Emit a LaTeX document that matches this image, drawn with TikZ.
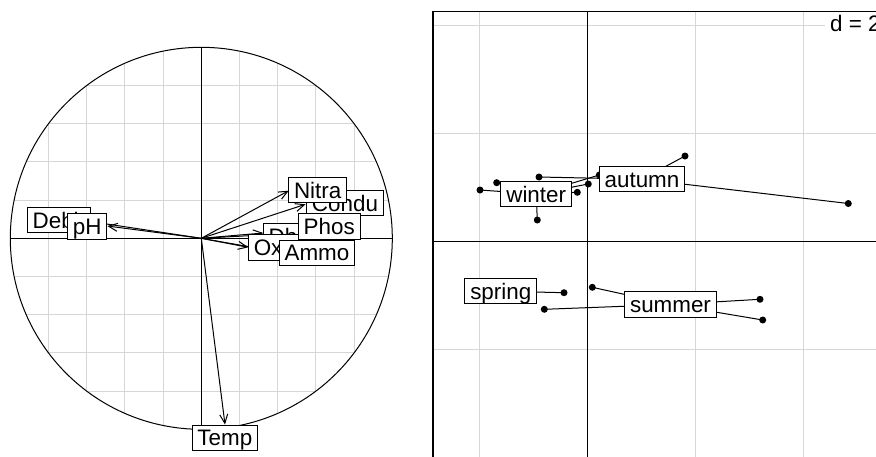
\documentclass[tikz,border=0pt]{standalone}
\usepackage{fontspec}
\setmainfont{Liberation Sans}
\usetikzlibrary{arrows.meta}
\begin{document}
\begin{tikzpicture}[x=1pt,y=-1pt,
  lab/.style={draw=black, fill=white, line width=1pt, font=\fontsize{22.4}{24}\selectfont, text height=16.1pt, text depth=0pt, inner xsep=5.4pt, inner ysep=4.7pt},
  gridl/.style={draw=black!16, line width=1pt},
  axisl/.style={draw=black, line width=1pt},
  arr/.style={draw=black, line width=1pt, -{Straight Barb[length=9pt,width=8pt]}},
  starl/.style={draw=black, line width=1pt},
  dot/.style={circle, fill=black, inner sep=0pt, minimum size=7pt}]
\useasboundingbox (0,0) rectangle (876,456);
% ---------------- left panel: correlation circle ----------------
\coordinate (O) at (201.3,238.3);
\begin{scope}
  \clip (O) circle[radius=191];
  \foreach \k in {-4,-3,-2,-1,1,2,3,4} {
    \draw[gridl] ({201.3+(\k)*38.2},40) -- ({201.3+(\k)*38.2},440);
    \draw[gridl] (0,{238.3+(\k)*38.2}) -- (400,{238.3+(\k)*38.2});
  }
\end{scope}
\draw[line width=1pt] (O) circle[radius=191];
\coordinate (axL) at (10.3,238.3);
\coordinate (axR) at (392.3,238.3);
\coordinate (axT) at (201.3,47.3);
\coordinate (axB) at (201.3,429.3);
\draw[axisl] (axL) -- (axR);
\draw[axisl] (axT) -- (axB);
% arrow tips
\coordinate (tTemp)  at (225,424.5);
\coordinate (tDebit) at (90.3,221.5);
\coordinate (tpH)    at (107.3,226);
\coordinate (tCondu) at (305.5,204.3);
\coordinate (tDbo)   at (263.3,233);
\coordinate (tOxyg)  at (248.3,247.3);
\coordinate (tAmmo)  at (279.3,252);
\coordinate (tNitra) at (288.7,190.7);
\coordinate (tPhos)  at (297.8,233);
\foreach \t in {tTemp,tDebit,tpH,tCondu,tDbo,tOxyg,tAmmo,tNitra,tPhos}
  \draw[arr] (O) -- (\t);
% labels
\node[lab] (Temp)  at (224.8,437.8) {Temp};
\node[lab] (Debit) at (58.8,220) {Debit};
\node[lab] (pH)    at (87.2,226.5) {pH};
\node[lab] (Condu) at (345,203) {Condu};
\node[lab] (Dbo)   at (295.4,236) {Dbo5};
\node[lab] (Oxyg)  at (279.9,247.5) {Oxyg};
\node[lab] (Ammo)  at (317,252.8) {Ammo};
\node[lab] (Nitra) at (317.7,190.2) {Nitra};
\node[lab] (Phos)  at (329.2,226.7) {Phos};
% ---------------- right panel: class plot ----------------
\foreach \x in {479,695,803}
  \draw[gridl] (\x,11.7) -- (\x,457);
\foreach \y in {25.5,133.5,349.5}
  \draw[gridl] (433,\y) -- (877,\y);
\coordinate (rT) at (587,11.7);
\coordinate (rB) at (587,457);
\coordinate (rL) at (433,241.5);
\coordinate (rR) at (877,241.5);
\draw[axisl] (rT) -- (rB);
\draw[axisl] (rL) -- (rR);
% group centres
\coordinate (cW) at (536.2,194);
\coordinate (cA) at (642,179.2);
\coordinate (cS) at (500.8,291.2);
\coordinate (cU) at (670.5,304.5);
% points
\coordinate (w1) at (480,190);
\coordinate (w2) at (496.7,182.7);
\coordinate (w3) at (537.3,220);
\coordinate (w4) at (577.3,192.3);
\coordinate (w5) at (588.3,184);
\coordinate (w6) at (599.3,175);
\coordinate (a1) at (539,177);
\coordinate (a2) at (685,156);
\coordinate (a3) at (848.3,203.5);
\coordinate (s1) at (564,292.7);
\coordinate (u1) at (544.3,309.3);
\coordinate (u2) at (592.3,287.3);
\coordinate (u3) at (760,299.3);
\coordinate (u4) at (762.7,320);
\foreach \p in {w1,w2,w3,w4,w5,w6} \draw[starl] (cW) -- (\p);
\foreach \p in {a1,a2,a3} \draw[starl] (cA) -- (\p);
\foreach \p in {s1} \draw[starl] (cS) -- (\p);
\foreach \p in {u1,u2,u3,u4} \draw[starl] (cU) -- (\p);
\foreach \p in {w1,w2,w3,w4,w5,w6,a1,a2,a3,s1,u1,u2,u3,u4}
  \node[dot] at (\p) {};
\node[lab] (winter) at (cW) {winter};
\node[lab] (autumn) at (cA) {autumn};
\node[lab] (spring) at (cS) {spring};
\node[lab] (summer) at (cU) {summer};
% scale label
\fill[white] (825,12.3) rectangle (877,38);
\node[anchor=base west, inner sep=0pt, font=\fontsize{22.4}{24}\selectfont] (dlab) at (830,31.7) {d = 2};
\draw[line width=1.2pt] (433,457) -- (433,11.7) -- (877,11.7);
\end{tikzpicture}
\end{document}
